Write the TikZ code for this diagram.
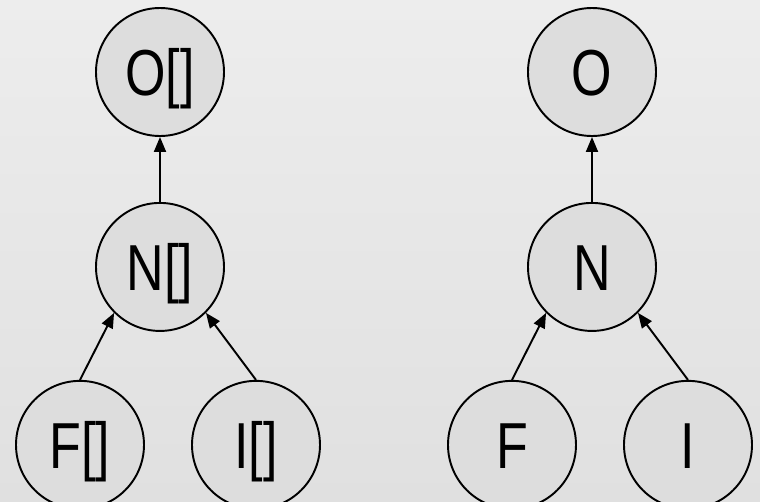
\documentclass[tikz,border=0pt]{standalone}
\usepackage{fontspec}
\setmainfont{Liberation Sans}
\usepackage{graphicx}
\usepackage{tikz}
\usetikzlibrary{arrows.meta,positioning}

\definecolor{bgtop}{RGB}{237,237,237}
\definecolor{bgbottom}{RGB}{224,224,224}
\definecolor{elemfill}{RGB}{221,221,221}

% narrow letters inside the circles
\newcommand{\elemtext}[1]{\scalebox{0.8}[1]{#1}}

\begin{document}
\begin{tikzpicture}[
  node distance=1.3cm,
  elem/.style={circle, draw, line width=1.1pt, fill=elemfill,
               minimum size=2.56cm, inner sep=0pt, text height=0.93cm,
               text depth=0pt, font=\fontsize{37}{40}\selectfont},
  link/.style={-{Triangle[length=0.3cm, width=0.24cm]}, line width=1.1pt},
]
  % background
  \fill[top color=bgtop, bottom color=bgbottom] (0,0) rectangle (15.2,-10.04);
  \clip (0,0) rectangle (15.2,-10.04);
  \useasboundingbox (0,0) rectangle (15.2,-10.04);

  % -- Left tree: array types --
  \node[elem] (ol) at (3.2,-1.44) {\elemtext{O[]}};
  \node[elem, below=of ol] (nl) {\elemtext{N[]}};
  \node[elem, below=0.96cm of nl, xshift=-1.6cm] (fl) {\elemtext{F[]}};
  \node[elem, below=0.96cm of nl, xshift=1.92cm] (il) {\elemtext{I[]}};

  % -- Right tree: plain types --
  \node[elem] (or) at (11.84,-1.44) {\elemtext{O}};
  \node[elem, below=of or] (nr) {\elemtext{N}};
  \node[elem, below=0.96cm of nr, xshift=-1.6cm] (fr) {\elemtext{F}};
  \node[elem, below=0.96cm of nr, xshift=1.92cm] (ir) {\elemtext{I}};

  % Connections
  \draw[link] (nl.north) -- (ol.south);
  \draw[link] (fl.north) -- (nl.225);
  \draw[link] (il.north) -- (nl.-45);
  \draw[link] (nr.north) -- (or.south);
  \draw[link] (fr.north) -- (nr.225);
  \draw[link] (ir.north) -- (nr.-45);

\end{tikzpicture}
\end{document}
